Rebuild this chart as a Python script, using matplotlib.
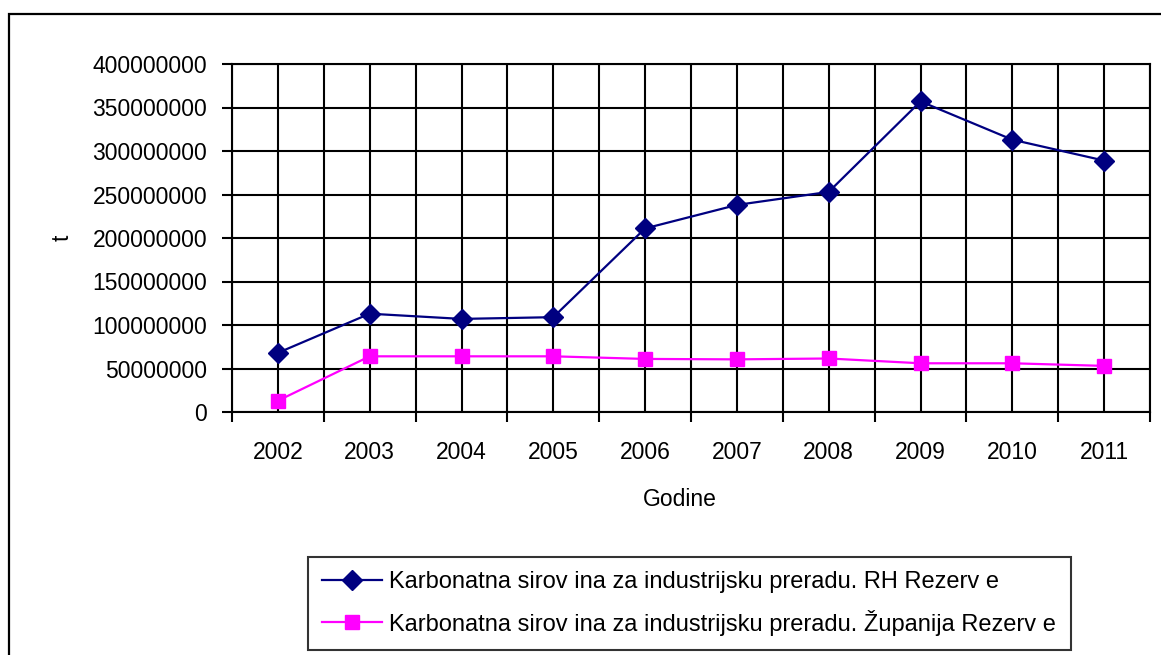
import numpy as np
import matplotlib.pyplot as plt
from matplotlib.patches import Rectangle

plt.rcParams['font.family'] = ['Liberation Sans', 'DejaVu Sans']

# data
godine = ['2002', '2003', '2004', '2005', '2006', '2007', '2008', '2009', '2010', '2011']
rh_rezerve = [68e6, 113e6, 107e6, 109e6, 211e6, 238e6, 253e6, 357e6, 313e6, 289e6]
zupanija_rezerve = [13e6, 64e6, 64e6, 64e6, 61e6, 60.5e6, 61.5e6, 56e6, 56e6, 53e6]
yticks = np.arange(0, 400000001, 50000000)

label_rh = 'Karbonatna sirov ina za industrijsku preradu. RH Rezerv e'
label_zup = 'Karbonatna sirov ina za industrijsku preradu. Županija Rezerv e'

W, H = 1161, 655
fig = plt.figure(figsize=(W / 100, H / 100), dpi=100)
ax = fig.add_axes([232 / W, 1 - 412 / H, (1150 - 232) / W, (412 - 64) / H])

x = np.arange(len(godine))
ax.plot(x, rh_rezerve, color='#000080', linewidth=1.6, marker='D', markersize=10,
        label=label_rh, zorder=3)
ax.plot(x, zupanija_rezerve, color='#FF00FF', linewidth=1.6, marker='s', markersize=10,
        label=label_zup, zorder=3)

ax.set_xlim(-0.5, len(godine) - 0.5)
ax.set_ylim(0, 400000000)

# category labels at centres, tick marks at the boundaries
ax.set_xticks(x)
ax.set_xticklabels(godine)
ax.set_xticks(np.arange(-0.5, len(godine), 1), minor=True)
ax.tick_params(axis='x', which='major', length=0, pad=21, labelsize=16.5)
ax.tick_params(axis='x', which='minor', length=7, width=1.5, color='black')
ax.set_yticks(yticks)
ax.set_yticklabels([str(int(v)) for v in yticks])
ax.tick_params(axis='y', length=7, width=1.5, pad=11, labelsize=16.5)

ax.grid(True, which='both', color='black', linewidth=1.5)
ax.set_axisbelow(True)
for s in ax.spines.values():
    s.set_linewidth(1.5)
    s.set_color('black')

fig.text(62 / W, 1 - 238 / H, 't', rotation=90, fontsize=16.5, ha='center', va='center')
fig.text(680 / W, 1 - 500 / H, 'Godine', fontsize=16.5, ha='center', va='center')

leg = fig.legend(loc='upper left', bbox_to_anchor=(308 / W, 1 - 557 / H),
                 fontsize=17, frameon=True, fancybox=False, edgecolor='black',
                 handlelength=2.55, handletextpad=0.3, labelspacing=0.7,
                 borderpad=0.6, borderaxespad=0)
leg.get_frame().set_linewidth(1.5)

# outer chart frame
fig.add_artist(Rectangle((9 / W, -0.05), 1.2, 1 - 14 / H + 0.05, transform=fig.transFigure,
                         fill=False, edgecolor='black', linewidth=1.6))

fig.savefig('out.png', dpi=100)
